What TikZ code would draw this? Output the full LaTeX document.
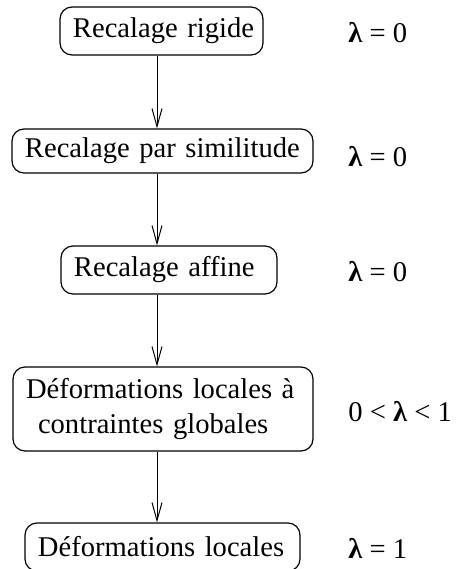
\documentclass[tikz,border=0pt]{standalone}
\usepackage{fontspec}
\setmainfont{Liberation Serif}
\usetikzlibrary{arrows.meta}
\tikzset{
  stepbox/.style={draw, rounded corners=6pt, line width=0.6pt, align=left,
    inner xsep=6.5pt, inner ysep=0pt, font=\fontsize{14.3}{17.5}\selectfont},
  lam/.style={anchor=west, inner sep=0pt, font=\fontsize{14.3}{17.5}\selectfont},
  arr/.style={line width=0.5pt, -{Straight Barb[length=9pt,width=5pt,line width=0.5pt]}}
}
\begin{document}
\begin{tikzpicture}[x=0.5pt,y=-0.5pt]
\useasboundingbox (0,0) rectangle (457,569);
\clip (0,0) rectangle (457,569);
\node[stepbox, text width=88.5pt, minimum height=24pt] (b1) at (161.5,31) {\mbox{Recalage rigide}};
\node[stepbox, text width=137.5pt, minimum height=22pt] (b2) at (162.5,151) {\mbox{Recalage par similitude}};
\node[stepbox, text width=95pt, minimum height=24pt] (b3) at (169,270) {\mbox{Recalage affine}};
\node[stepbox, text width=137pt, minimum height=42pt] (b4) at (163,409) {\mbox{Déformations locales à}\\\mbox{\hspace{6pt}contraintes globales}};
\node[stepbox, text width=124.5pt, minimum height=24pt] (b5) at (162.5,547) {\mbox{Déformations locales}};
\coordinate (axis) at (157,0);
\draw[arr] (b1.south -| axis) -- (b2.north -| axis);
\draw[arr] (b2.south -| axis) -- (b3.north -| axis);
\draw[arr] (b3.south -| axis) -- (b4.north -| axis);
\draw[arr] (b4.south -| axis) -- (b5.north -| axis);
\node[lam] (l1) at (348,33) {{\bfseries λ} = 0};
\node[lam] (l2) at (348,157) {{\bfseries λ} = 0};
\node[lam] (l3) at (348,272) {{\bfseries λ} = 0};
\node[lam] (l4) at (348,412) {0 < {\bfseries λ} < 1};
\node[lam] (l5) at (348,548) {{\bfseries λ} = 1};
\end{tikzpicture}
\end{document}
